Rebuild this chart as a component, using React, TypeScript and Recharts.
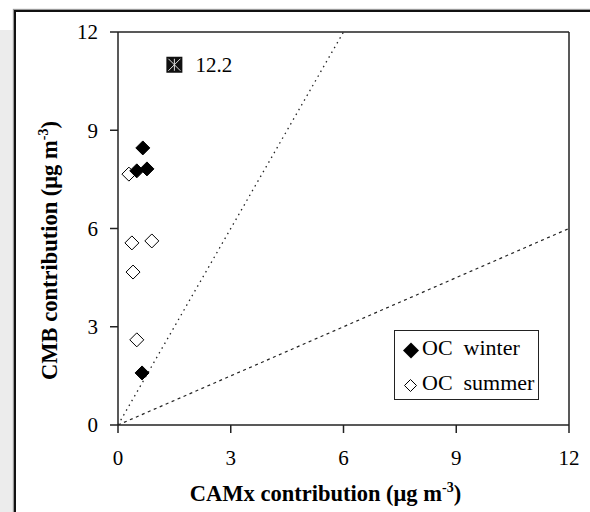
import React from 'react';
import {
  ScatterChart, Scatter, XAxis, YAxis, ReferenceLine, Legend,
} from 'recharts';

const winterX = [0.66, 0.5, 0.77, 0.64];
const winterY = [8.46, 7.76, 7.82, 1.59];
const summerX = [0.29, 0.37, 0.9, 0.4, 0.5];
const summerY = [7.66, 5.56, 5.62, 4.67, 2.6];
const offScaleX = [1.5];
const offScaleY = [11];
const offScaleLabel = ['12.2'];
const xTicks = [0, 3, 6, 9, 12];
const yTicks = [0, 3, 6, 9, 12];
const line1 = [{ x: 0, y: 0 }, { x: 6, y: 12 }];
const line2 = [{ x: 0, y: 0 }, { x: 12, y: 6 }];

const winter = winterX.map((x, i) => ({ x, y: winterY[i] }));
const summer = summerX.map((x, i) => ({ x, y: summerY[i] }));
const offScale = offScaleX.map((x, i) => ({ x, y: offScaleY[i], label: offScaleLabel[i] }));

const FONT = '"Liberation Serif", "Times New Roman", serif';

const FilledDiamond = (props: any) => {
  const { cx, cy } = props;
  const h = 7;
  return <polygon points={`${cx},${cy - h} ${cx + h},${cy} ${cx},${cy + h} ${cx - h},${cy}`} fill="#000" stroke="#000" strokeWidth={1} />;
};
const OpenDiamond = (props: any) => {
  const { cx, cy } = props;
  const h = 7;
  return <polygon points={`${cx},${cy - h} ${cx + h},${cy} ${cx},${cy + h} ${cx - h},${cy}`} fill="#fff" stroke="#000" strokeWidth={1} />;
};
const OffScaleMark = (props: any) => {
  const { cx, cy, payload } = props;
  const w = 8;
  return (
    <g>
      <rect x={cx - w} y={cy - w} width={2 * w} height={2 * w} fill="#111" />
      <line x1={cx - w + 2} y1={cy - w + 2} x2={cx + w - 2} y2={cy + w - 2} stroke="#ddd" strokeWidth={1} />
      <line x1={cx + w - 2} y1={cy - w + 2} x2={cx - w + 2} y2={cy + w - 2} stroke="#ddd" strokeWidth={1} />
      <line x1={cx} y1={cy - w + 2} x2={cx} y2={cy + w - 2} stroke="#ddd" strokeWidth={1} />
      <text x={cx + 21} y={cy + 7} fontFamily={FONT} fontSize={21} fill="#000">{payload.label}</text>
    </g>
  );
};

const XTitle = (props: any) => {
  const { viewBox } = props;
  const cx = viewBox.x + viewBox.width / 2 - 18;
  return (
    <text x={cx} y={viewBox.y + 76} textAnchor="middle" fontFamily={FONT} fontWeight="bold" fontSize={22.5} fill="#000">
      CAMx contribution (μg m<tspan dy={-9} fontSize={14}>-3</tspan><tspan dy={9}>)</tspan>
    </text>
  );
};
const YTitle = (props: any) => {
  const { viewBox } = props;
  const cy = viewBox.y + viewBox.height / 2 + 22;
  const x = 57;
  return (
    <text x={x} y={cy} transform={`rotate(-90 ${x} ${cy})`} textAnchor="middle" fontFamily={FONT} fontWeight="bold" fontSize={22.5} fill="#000">
      CMB contribution (μg m<tspan dy={-9} fontSize={14}>-3</tspan><tspan dy={9}>)</tspan>
    </text>
  );
};

const LegendBox = () => (
  <div style={{
    width: 145, height: 70, border: '1.5px solid #222', background: '#fff',
    fontFamily: FONT, fontSize: 22, lineHeight: '25px', color: '#000', boxSizing: 'border-box', position: 'relative',
  }}>
    <svg width={30} height={68} style={{ position: 'absolute', left: 0, top: 0 }}>
      <polygon points="16,11.5 24,19.5 16,27.5 8,19.5" fill="#000" />
      <polygon points="15.5,48.5 21.5,54.5 15.5,60.5 9.5,54.5" fill="#fff" stroke="#000" strokeWidth={1} />
    </svg>
    <div style={{ position: 'absolute', left: 27, top: 4, whiteSpace: 'nowrap' }}>OC&nbsp; winter</div>
    <div style={{ position: 'absolute', left: 27, top: 39, whiteSpace: 'nowrap' }}>OC&nbsp; summer</div>
  </div>
);

export default function App() {
  return (
    <div style={{ position: 'absolute', left: 0, top: 0, width: 590, height: 512, overflow: 'hidden', background: '#fff' }}>
      <div style={{ position: 'absolute', left: 0, top: 30, width: 14, height: 490, background: '#ececec' }} />
      <div style={{ position: 'absolute', left: 14, top: 10, width: 700, height: 700, borderLeft: '2px solid #111', borderTop: '2px solid #111', boxShadow: '-1px -1px 1px #999' }} />
      <div style={{ position: 'absolute', left: 0, top: 0 }}>
        <ScatterChart width={590} height={512} margin={{ top: 32, right: 21, bottom: 0, left: 0 }}>
          <XAxis
            type="number" dataKey="x" domain={[0, 12]} ticks={xTicks} interval={0}
            height={87} tickSize={8} tickMargin={17}
            stroke="#222" strokeWidth={1.5}
            tick={{ fill: '#000', fontSize: 21, fontFamily: FONT }}
            label={<XTitle />}
          />
          <YAxis
            type="number" dataKey="y" domain={[0, 12]} ticks={yTicks} interval={0}
            width={118} tickSize={8} tickMargin={12}
            stroke="#222" strokeWidth={1.5}
            tick={{ fill: '#000', fontSize: 21, fontFamily: FONT }}
            label={<YTitle />}
          />
          <ReferenceLine y={12} stroke="#222" strokeWidth={1.5} />
          <ReferenceLine x={12} stroke="#222" strokeWidth={1.5} />
          <ReferenceLine segment={line1} stroke="#222" strokeWidth={1.3} strokeDasharray="1.5 4" />
          <ReferenceLine segment={line2} stroke="#222" strokeWidth={1.2} strokeDasharray="3 3.5" />
          <Scatter name="OC summer" data={summer} shape={<OpenDiamond />} isAnimationActive={false} />
          <Scatter name="OC winter" data={winter} shape={<FilledDiamond />} isAnimationActive={false} />
          <Scatter name="off" data={offScale} shape={<OffScaleMark />} legendType="none" isAnimationActive={false} />
          <Legend
            layout="horizontal" verticalAlign="middle" align="center"
            content={<LegendBox />}
            wrapperStyle={{ position: 'absolute', left: 394, top: 330, width: 145, height: 70 }}
          />
        </ScatterChart>
      </div>
    </div>
  );
}
